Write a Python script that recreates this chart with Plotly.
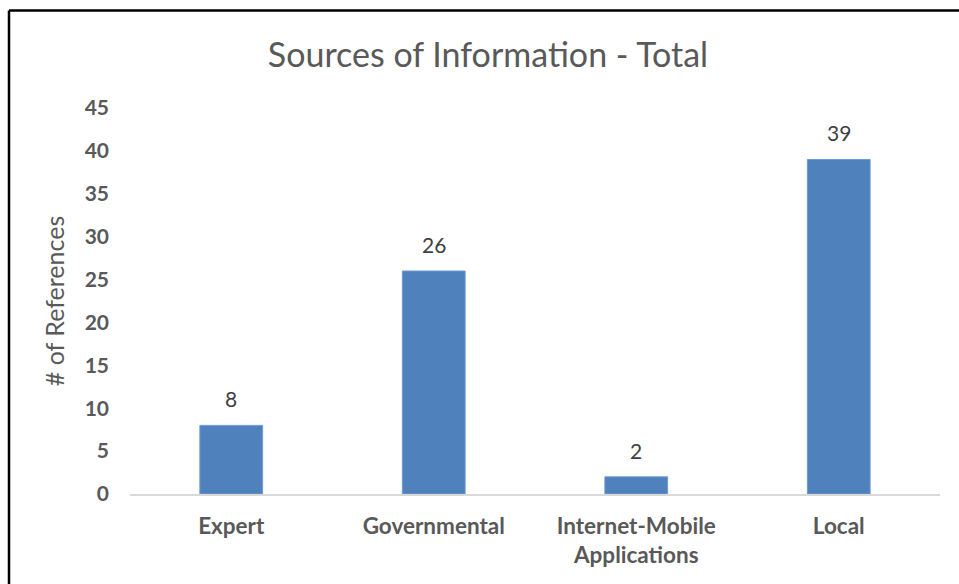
import plotly.graph_objects as go

categories = ["Expert", "Governmental", "Internet-Mobile<br>Applications", "Local"]
values = [8, 26, 2, 39]
y_ticks = [0, 5, 10, 15, 20, 25, 30, 35, 40, 45]

W, H = 959, 584
L, R, T, B = 130, 19, 108, 90
pw, ph = W - L - R, H - T - B
FONT = "Lato, Open Sans, sans-serif"

def px_x(p):
    return (p - L) / pw

def px_y(p):
    return (H - B - p) / ph

fig = go.Figure()
fig.add_trace(go.Bar(
    x=categories, y=values,
    marker=dict(color="#4F81BD", line=dict(color="#6E9BD0", width=1)),
))

for c, v in zip(categories, values):
    fig.add_annotation(x=c, y=v, text=str(v), showarrow=False, xanchor="center",
                       yanchor="bottom", yshift=12,
                       font=dict(family=FONT, size=21, color="#404040"))

fig.update_layout(
    width=W, height=H,
    margin=dict(l=L, r=R, t=T, b=B),
    paper_bgcolor="white", plot_bgcolor="white",
    bargap=0.69,
    showlegend=False,
    title=dict(text="Sources of Information - Total", x=488 / W, xref="container", xanchor="center",
               y=1 - 55 / H, yref="container", yanchor="middle",
               font=dict(family=FONT, size=34, color="#595959")),
    xaxis=dict(showgrid=False, showline=True, linecolor="#D9D9D9", linewidth=1.5,
               ticks="", ticklabelstandoff=11,
               tickfont=dict(family=FONT, size=22.5, color="#595959", weight="bold")),
    yaxis=dict(range=[0, 45], tickvals=y_ticks, showgrid=False, showline=False, zeroline=False,
               ticks="", ticklabelstandoff=20,
               tickfont=dict(family=FONT, size=21, color="#595959", weight="bold"),
               title=dict(text="# of References", standoff=12,
                          font=dict(family=FONT, size=25, color="#595959"))),
    shapes=[
        dict(type="line", xref="paper", yref="paper", x0=px_x(9), x1=px_x(W + 5),
             y0=px_y(10.5), y1=px_y(10.5), line=dict(color="black", width=2.5)),
        dict(type="line", xref="paper", yref="paper", x0=px_x(9), x1=px_x(9),
             y0=px_y(10.5), y1=px_y(H + 5), line=dict(color="black", width=2.5)),
    ],
)

fig.write_html("out.html")
